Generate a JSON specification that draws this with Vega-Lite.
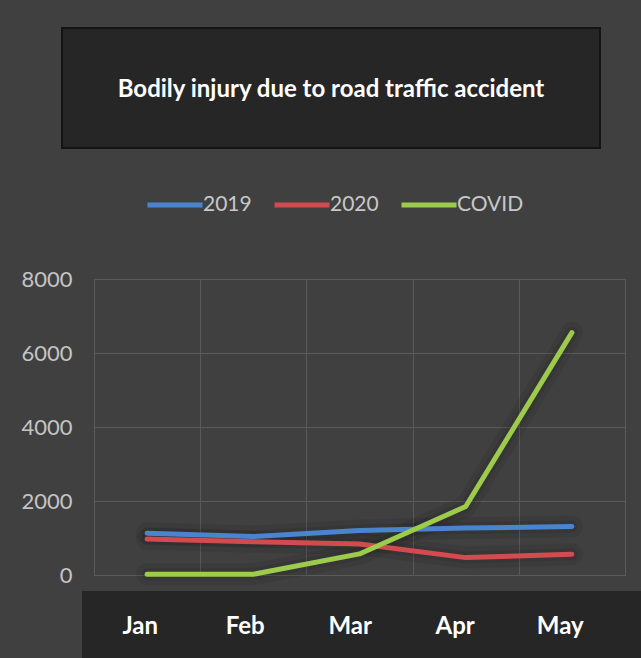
{
  "$schema": "https://vega.github.io/schema/vega-lite/v6.json",
  "background": "#404040",
  "padding": {"left": 8, "top": 27, "right": 0, "bottom": 0},
  "config": {
    "view": {"stroke": null},
    "font": "Lato"
  },
  "bounds": "full",
  "align": "none",
  "columns": 1,
  "spacing": 4,
  "resolve": {"scale": {"x": "independent"}, "legend": {"color": "independent"}},
  "datasets": {
    "injuries": [
      {"month": "Jan", "series": "2019", "value": 1130},
      {"month": "Feb", "series": "2019", "value": 1040},
      {"month": "Mar", "series": "2019", "value": 1200},
      {"month": "Apr", "series": "2019", "value": 1270},
      {"month": "May", "series": "2019", "value": 1310},
      {"month": "Jan", "series": "2020", "value": 970},
      {"month": "Feb", "series": "2020", "value": 900},
      {"month": "Mar", "series": "2020", "value": 840},
      {"month": "Apr", "series": "2020", "value": 470},
      {"month": "May", "series": "2020", "value": 560},
      {"month": "Jan", "series": "COVID", "value": 20},
      {"month": "Feb", "series": "COVID", "value": 20},
      {"month": "Mar", "series": "COVID", "value": 570},
      {"month": "Apr", "series": "COVID", "value": 1850},
      {"month": "May", "series": "COVID", "value": 6550}
    ],
    "months": [
      {"month": "Jan"}, {"month": "Feb"}, {"month": "Mar"}, {"month": "Apr"}, {"month": "May"}
    ],
    "heading": [
      {"text": "Bodily injury due to road traffic accident"}
    ]
  },
  "concat": [
    {
      "spacing": 0,
      "hconcat": [
        {
          "width": 53,
          "height": 143,
          "data": {"values": []},
          "mark": "point"
        },
        {
          "width": 538,
          "height": 120,
          "view": {"fill": "#262626", "stroke": "#141414", "strokeWidth": 2},
          "data": {"name": "heading"},
          "mark": {"type": "text", "color": "#ffffff", "fontSize": 24, "fontWeight": "bold", "font": "Lato", "baseline": "middle", "dy": 2},
          "encoding": {"text": {"field": "text", "type": "nominal"}}
        }
      ]
    },
    {
      "spacing": 0,
      "hconcat": [
        {
          "width": 12,
          "height": 10,
          "data": {"values": []},
          "mark": "point"
        },
        {
          "width": 531,
          "height": 296,
          "view": {"stroke": "#5a5a5a", "strokeWidth": 1},
          "data": {"name": "injuries"},
          "encoding": {
            "x": {
              "field": "month", "type": "nominal", "sort": ["Jan", "Feb", "Mar", "Apr", "May"], "bandPosition": 0.5,
              "scale": {"type": "band", "paddingInner": 0, "paddingOuter": 0},
              "axis": {"title": null, "labels": false, "ticks": false, "domain": false, "grid": true, "tickBand": "extent", "gridColor": "#5a5a5a", "gridWidth": 1}
            },
            "y": {
              "field": "value", "type": "quantitative", "scale": {"domain": [0, 8000]},
              "axis": {"title": null, "values": [0, 2000, 4000, 6000, 8000], "format": "d", "ticks": false, "domain": false, "gridColor": "#5a5a5a", "gridWidth": 1, "labelColor": "#c4c4c4", "labelFont": "Lato", "labelFontSize": 22, "labelPadding": 22}
            }
          },
          "layer": [
            {
              "mark": {"type": "line", "strokeWidth": 22, "color": "#000000", "opacity": 0.07, "strokeCap": "round", "strokeJoin": "round"},
              "encoding": {"detail": {"field": "series", "type": "nominal"}}
            },
            {
              "mark": {"type": "line", "strokeWidth": 12, "color": "#000000", "opacity": 0.08, "strokeCap": "round", "strokeJoin": "round"},
              "encoding": {"detail": {"field": "series", "type": "nominal"}}
            },
            {
              "mark": {"type": "line", "strokeWidth": 5, "strokeCap": "round", "strokeJoin": "round"},
              "encoding": {
                "color": {
                  "field": "series", "type": "nominal",
                  "scale": {"domain": ["2019", "2020", "COVID"], "range": ["#4a84cf", "#d24b4f", "#9dcb4c"]},
                  "legend": {"orient": "none", "legendX": 137, "legendY": -104, "direction": "horizontal", "title": null, "symbolType": "stroke", "symbolSize": 3025, "symbolStrokeWidth": 5, "labelFont": "Lato", "labelFontSize": 21, "labelColor": "#c8c8c8", "labelOffset": -2, "columnPadding": 12}
                }
              }
            }
          ]
        }
      ]
    },
    {
      "spacing": 0,
      "hconcat": [
        {
          "width": 74,
          "height": 68,
          "data": {"values": []},
          "mark": "point"
        },
        {
          "width": 559,
          "height": 68,
          "view": {"fill": "#262626", "stroke": null},
          "data": {"name": "months"},
          "mark": {"type": "text", "color": "#ffffff", "fontSize": 24, "fontWeight": "bold", "font": "Lato", "baseline": "middle", "dy": 2},
          "encoding": {
            "x": {"field": "month", "type": "nominal", "sort": ["Jan", "Feb", "Mar", "Apr", "May"], "bandPosition": 0.5,
              "scale": {"type": "band", "paddingInner": 0, "paddingOuter": 0.162, "align": 0.168}, "axis": null},
            "text": {"field": "month", "type": "nominal"}
          }
        }
      ]
    }
  ]
}
